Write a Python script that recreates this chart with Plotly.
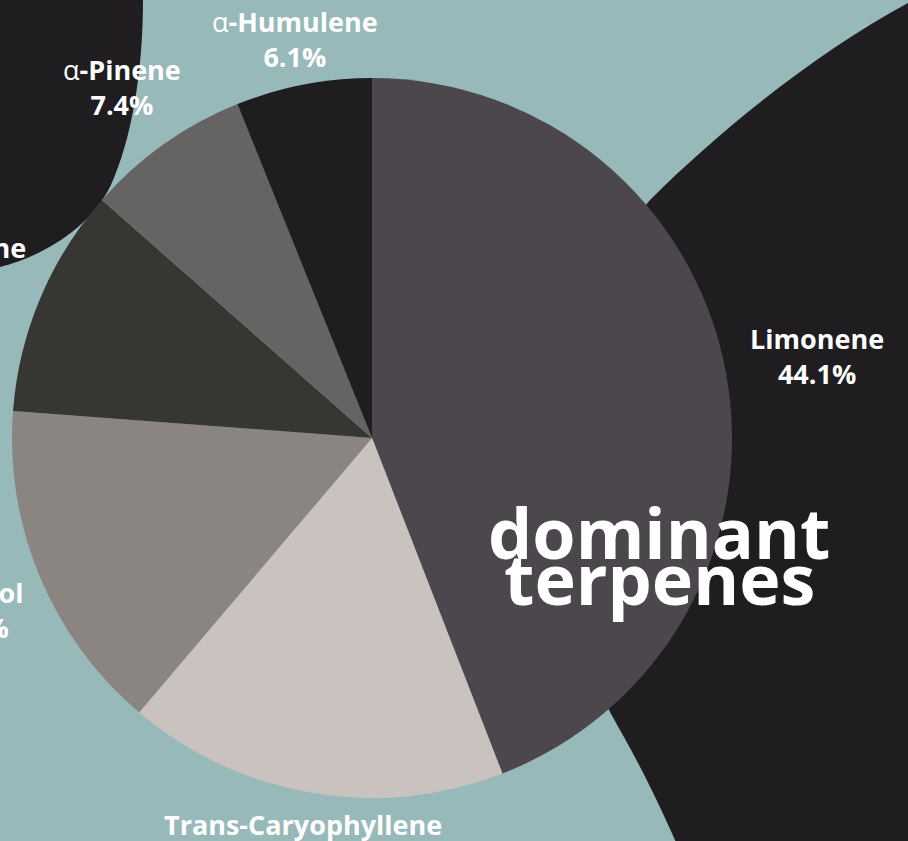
import plotly.graph_objects as go

# ---- data ----
terpenes = ["Limonene", "Trans-Caryophyllene", "Linalool", "β-Myrcene", "α-Pinene", "α-Humulene"]
shares = [44.1, 17.1, 15.0, 10.3, 7.4, 6.1]
title_lines = ["dominant", "terpenes"]

# ---- styles ----
slice_colors = ["#4b474c", "#c9c2be", "#8a8581", "#363633", "#656462", "#1f1d20"]
BG = "#98b9ba"
DARK = "#1f1d20"
FONT = "Open Sans"
W, H = 908, 841

# label placement in pixel space: x, y, x-anchor, y-anchor of the two-line block
label_place = {
    "Limonene": (817, 356, "center", "middle"),
    "Trans-Caryophyllene": (303, 804, "center", "top"),
    "Linalool": (25, 610, "right", "middle"),
    "β-Myrcene": (28, 265, "right", "middle"),
    "α-Pinene": (122, 87, "center", "middle"),
    "α-Humulene": (295, 39, "center", "middle"),
}

fig = go.Figure()

# dummy trace to create the pixel-space cartesian frame for decorations
fig.add_trace(go.Scatter(x=[], y=[], hoverinfo="skip", showlegend=False))

fig.add_trace(go.Pie(
    labels=terpenes,
    values=shares,
    sort=False,
    direction="clockwise",
    rotation=0,
    marker=dict(colors=slice_colors, line=dict(width=0)),
    textinfo="none",
    hoverinfo="skip",
    showlegend=False,
    domain=dict(x=[12 / W, 732 / W], y=[1 - 798 / H, 1 - 78 / H]),
))

# decorative background blobs
shapes = [
    dict(type="path", xref="x", yref="y", layer="below", line=dict(width=0), fillcolor=DARK,
         path="M 150,-20 L 143,0 C 143,70 132,140 110,187 C 90,227 44,256 0,267 "
              "L -30,275 L -30,-20 Z"),
    dict(type="path", xref="x", yref="y", layer="below", line=dict(width=0), fillcolor=DARK,
         path="M 940,-15 L 908,3 C 820,50 721,129 650,200 C 595,260 575,640 610,712 "
              "C 630,748 655,790 692,880 L 950,880 Z"),
]

annotations = []


def label_html(name):
    if name.startswith("α") or name.startswith("β"):
        return "<span style='font-weight:normal'>" + name[0] + "</span>" + name[1:]
    return name


for name, val in zip(terpenes, shares):
    x, y, xa, ya = label_place[name]
    pct = f"{val:.1f}%"
    annotations.append(dict(x=x, y=y, xref="x", yref="y", xanchor=xa, yanchor=ya,
                            text=label_html(name) + "<br>" + pct, align="center", showarrow=False,
                            font=dict(family=FONT, size=27, color="white", weight="bold")))

title_y = [532, 578]
for line, ty in zip(title_lines, title_y):
    annotations.append(dict(x=659, y=ty, xref="x", yref="y", xanchor="center", yanchor="middle",
                            text=line, showarrow=False,
                            font=dict(family=FONT, size=70, color="white", weight="bold")))

fig.update_layout(
    width=W, height=H, autosize=False,
    margin=dict(l=0, r=0, t=0, b=0, pad=0),
    paper_bgcolor=BG, plot_bgcolor=BG,
    xaxis=dict(range=[0, W], visible=False, fixedrange=True),
    yaxis=dict(range=[H, 0], visible=False, fixedrange=True),
    shapes=shapes,
    annotations=annotations,
    showlegend=False,
)

fig.write_html("out.html", post_script="document.body.style.margin='0';",
               config=dict(displayModeBar=False))
